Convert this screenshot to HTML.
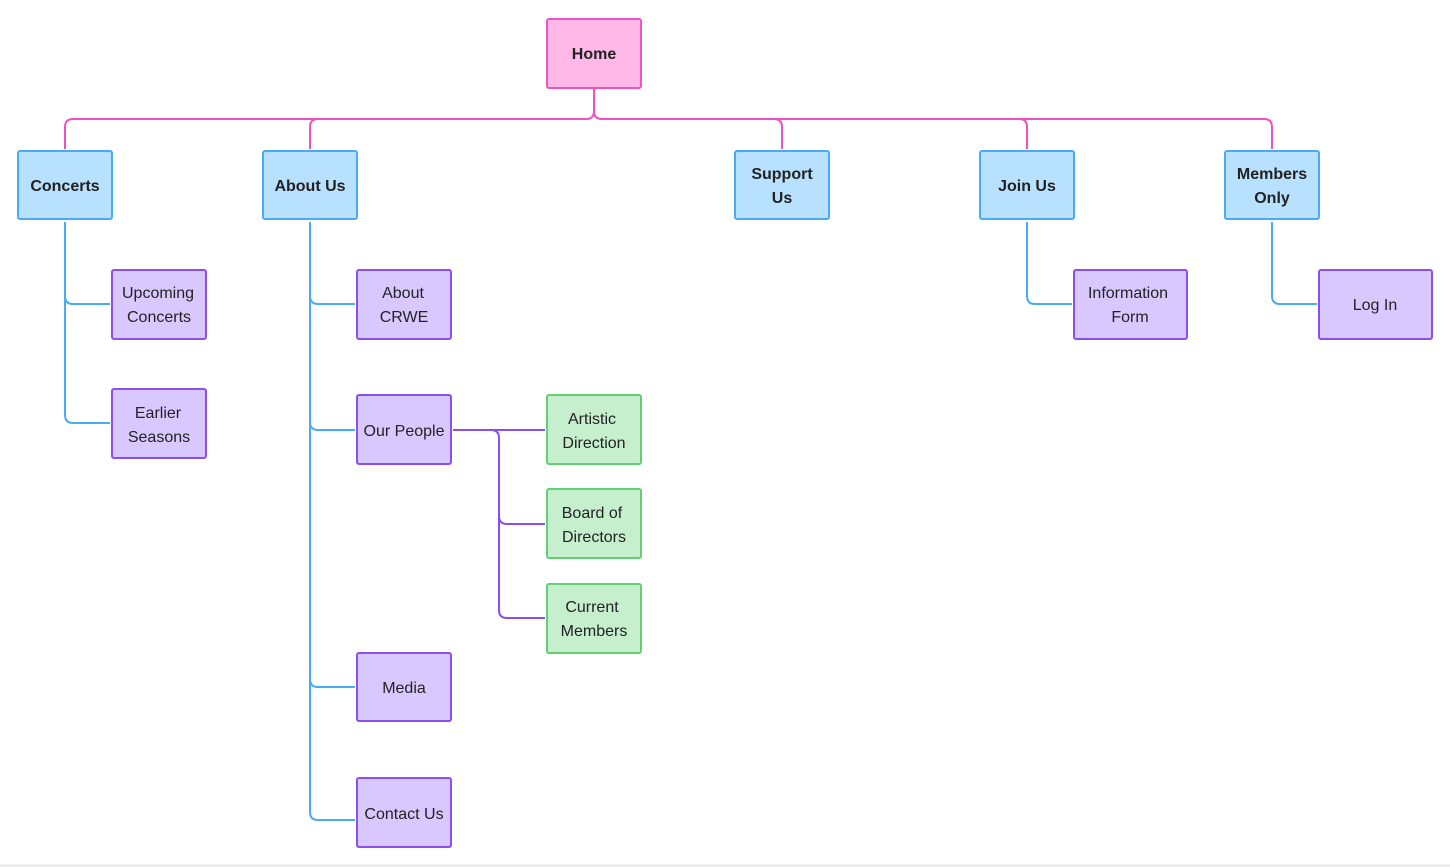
<!DOCTYPE html>
<html><head><meta charset="utf-8"><style>
html,body{margin:0;padding:0;background:#fff;}
svg{display:block;}
text{font-family:"Liberation Sans",sans-serif;font-size:16px;fill:#222;text-anchor:middle;}
.b{font-weight:bold;}
</style></head><body>
<svg width="1450" height="867" viewBox="0 0 1450 867" xmlns="http://www.w3.org/2000/svg">
<rect x="0" y="0" width="1450" height="867" fill="#fff"/>
<line x1="0" y1="865.5" x2="1450" y2="865.5" stroke="#e8e8e8" stroke-width="2"/>
<g fill="none" stroke-width="2">
<!-- pink -->
<g stroke="#f050c0">
<path d="M594 89 V111 Q594 119 586 119 H73 Q65 119 65 127 V149"/>
<path d="M594 111 Q594 119 602 119 H1264 Q1272 119 1272 127 V149"/>
<path d="M318 119 Q310 119 310 127 V149"/>
<path d="M774 119 Q782 119 782 127 V149"/>
<path d="M1019 119 Q1027 119 1027 127 V149"/>
</g>
<!-- blue -->
<g stroke="#4aabf5">
<path d="M65 222 V415 Q65 423 73 423 H110"/>
<path d="M65 296 Q65 304 73 304 H110"/>
<path d="M310 222 V812 Q310 820 318 820 H355"/>
<path d="M310 296 Q310 304 318 304 H355"/>
<path d="M310 422 Q310 430 318 430 H355"/>
<path d="M310 679 Q310 687 318 687 H355"/>
<path d="M1027 222 V296 Q1027 304 1035 304 H1072"/>
<path d="M1272 222 V296 Q1272 304 1280 304 H1317"/>
</g>
<!-- purple -->
<g stroke="#8b4ef0">
<path d="M453 430 H545"/>
<path d="M491 430 Q499 430 499 438 V610 Q499 618 507 618 H545"/>
<path d="M499 516 Q499 524 507 524 H545"/>
</g>
</g>
<!-- nodes -->
<g stroke-width="2">
<rect x="547" y="19" width="94" height="69" rx="2" fill="#ffb8e8" stroke="#ee55c2"/>
<g fill="#b8e0ff" stroke="#4aabf5">
<rect x="18" y="151" width="94" height="68" rx="2"/>
<rect x="263" y="151" width="94" height="68" rx="2"/>
<rect x="735" y="151" width="94" height="68" rx="2"/>
<rect x="980" y="151" width="94" height="68" rx="2"/>
<rect x="1225" y="151" width="94" height="68" rx="2"/>
</g>
<g fill="#d9c8ff" stroke="#8b4ef0">
<rect x="112" y="270" width="94" height="69" rx="2"/>
<rect x="112" y="389" width="94" height="69" rx="2"/>
<rect x="357" y="270" width="94" height="69" rx="2"/>
<rect x="357" y="395" width="94" height="69" rx="2"/>
<rect x="357" y="653" width="94" height="68" rx="2"/>
<rect x="357" y="778" width="94" height="69" rx="2"/>
<rect x="1074" y="270" width="113" height="69" rx="2"/>
<rect x="1319" y="270" width="113" height="69" rx="2"/>
</g>
<g fill="#c5efcd" stroke="#62cf73">
<rect x="547" y="395" width="94" height="69" rx="2"/>
<rect x="547" y="489" width="94" height="69" rx="2"/>
<rect x="547" y="584" width="94" height="69" rx="2"/>
</g>
</g>
<!-- labels -->
<text class="b" x="594" y="59">Home</text>
<text class="b" x="65" y="191">Concerts</text>
<text class="b" x="310" y="191">About Us</text>
<text class="b" x="782" y="179">Support</text><text class="b" x="782" y="203">Us</text>
<text class="b" x="1027" y="191">Join Us</text>
<text class="b" x="1272" y="179">Members</text><text class="b" x="1272" y="203">Only</text>
<text x="158" y="298">Upcoming</text><text x="159" y="322">Concerts</text>
<text x="158" y="418">Earlier</text><text x="159" y="442">Seasons</text>
<text x="403" y="298">About</text><text x="404" y="322">CRWE</text>
<text x="404" y="436">Our People</text>
<text x="404" y="693">Media</text>
<text x="404" y="819">Contact Us</text>
<text x="592" y="424">Artistic</text><text x="594" y="448">Direction</text>
<text x="592" y="518">Board of</text><text x="594" y="542">Directors</text>
<text x="592" y="612">Current</text><text x="594" y="636">Members</text>
<text x="1128" y="298">Information</text><text x="1130" y="322">Form</text>
<text x="1375" y="310">Log In</text>
</svg>
</body></html>
